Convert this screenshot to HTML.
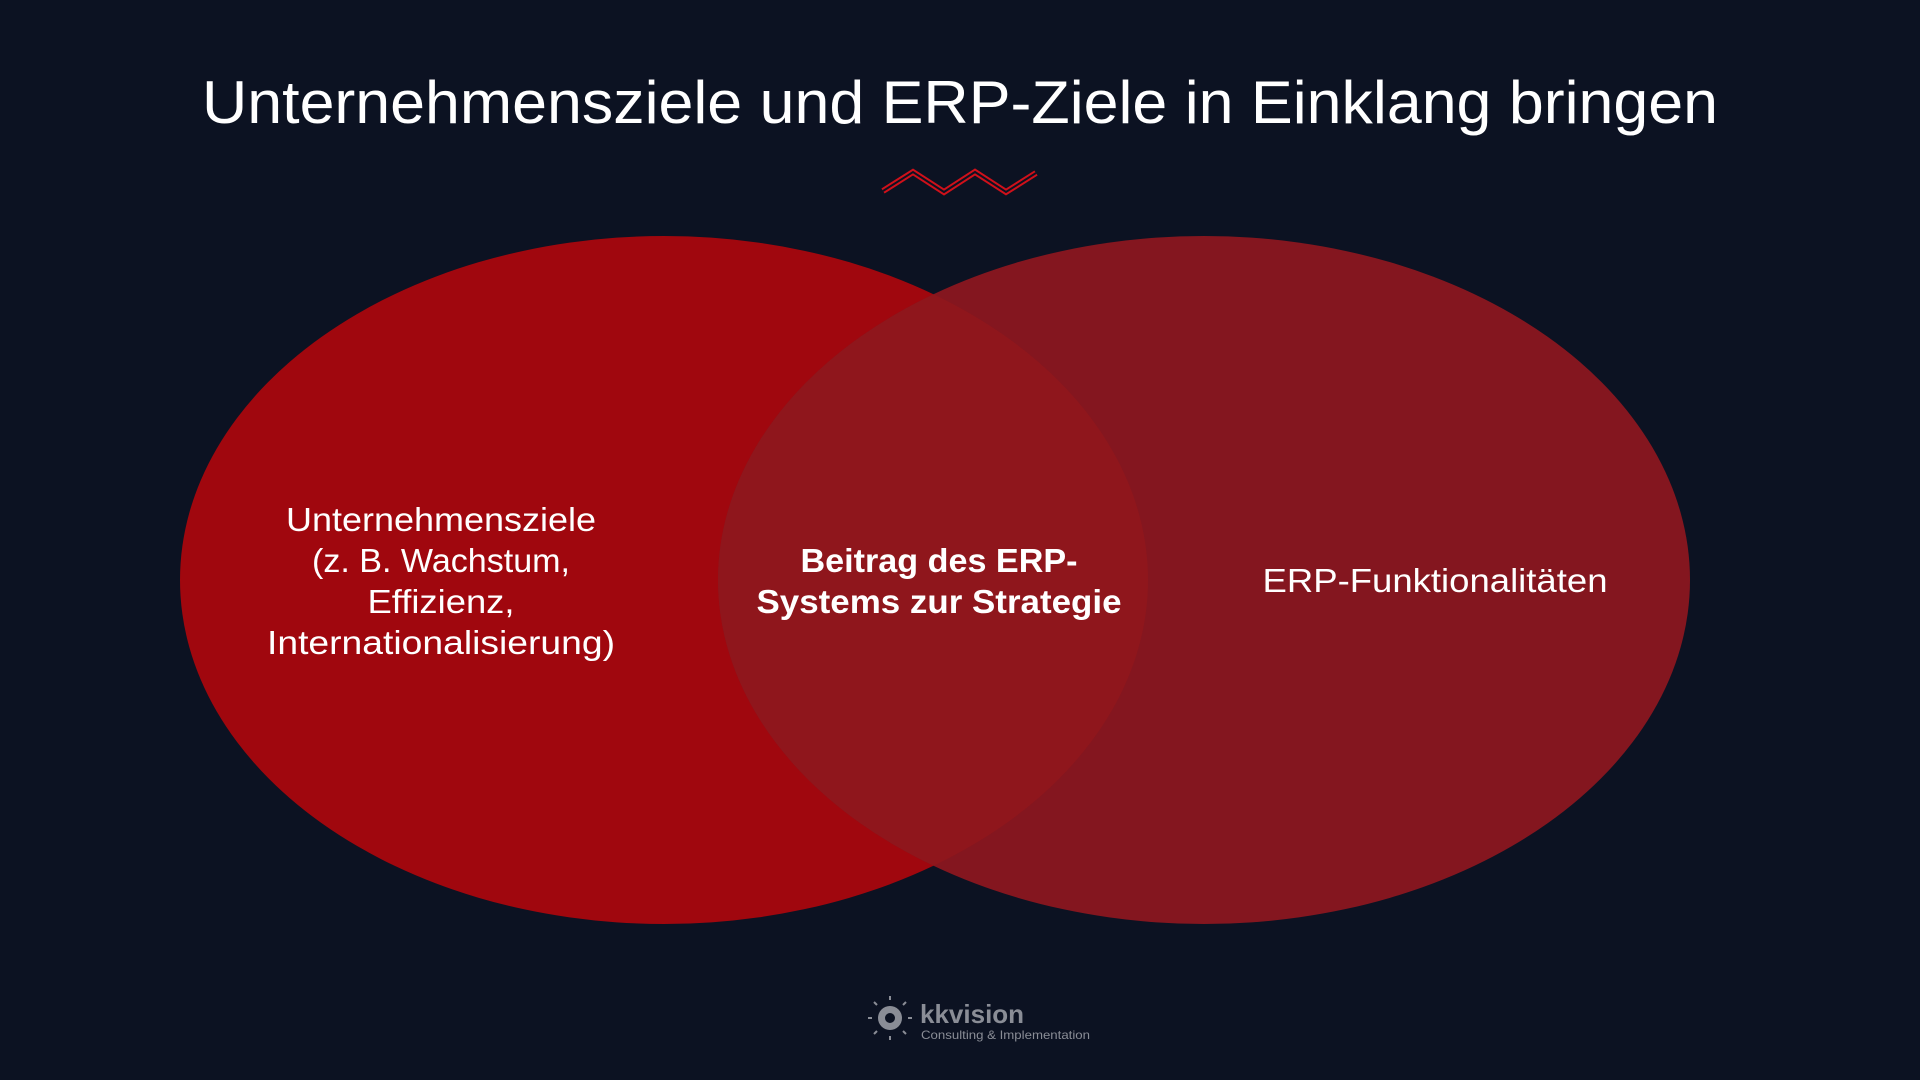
<!DOCTYPE html>
<html><head><meta charset="utf-8"><style>
html,body{margin:0;padding:0;width:1920px;height:1080px;background:#0c1222;overflow:hidden}
svg{display:block}
</style></head><body>
<svg width="1920" height="1080" viewBox="0 0 1920 1080" xmlns="http://www.w3.org/2000/svg">
<rect width="1920" height="1080" fill="#0c1222"/>
<text x="960" y="123" text-anchor="middle" font-family="Liberation Sans, sans-serif" font-size="60" fill="#ffffff" textLength="1516" lengthAdjust="spacingAndGlyphs">Unternehmensziele und ERP-Ziele in Einklang bringen</text>
<polyline points="883,191 913,172 944,192 975,172 1006,192 1036,173" fill="none" stroke="#d0101a" stroke-width="6" stroke-linejoin="miter"/>
<polyline points="883,191 913,172 944,192 975,172 1006,192 1036,173" fill="none" stroke="#0c1222" stroke-width="2" stroke-linejoin="miter"/>
<defs><clipPath id="cl"><ellipse cx="664" cy="580" rx="484" ry="344"/></clipPath></defs>
<ellipse cx="664" cy="580" rx="484" ry="344" fill="#a0070e"/>
<ellipse cx="1204" cy="580" rx="486" ry="344" fill="#84161f"/>
<ellipse cx="1204" cy="580" rx="486" ry="344" fill="#8f161c" clip-path="url(#cl)"/>
<g font-family="Liberation Sans, sans-serif" font-size="33" fill="#ffffff" text-anchor="middle" lengthAdjust="spacingAndGlyphs">
<text x="441" y="531" textLength="310" lengthAdjust="spacingAndGlyphs">Unternehmensziele</text>
<text x="441" y="572" textLength="258" lengthAdjust="spacingAndGlyphs">(z. B. Wachstum,</text>
<text x="441" y="613" textLength="147" lengthAdjust="spacingAndGlyphs">Effizienz,</text>
<text x="441" y="654" textLength="348" lengthAdjust="spacingAndGlyphs">Internationalisierung)</text>
<text x="939" y="572" font-weight="bold" textLength="277" lengthAdjust="spacingAndGlyphs">Beitrag des ERP-</text>
<text x="939" y="613" font-weight="bold" textLength="365" lengthAdjust="spacingAndGlyphs">Systems zur Strategie</text>
<text x="1435" y="592" textLength="345" lengthAdjust="spacingAndGlyphs">ERP-Funktionalitäten</text>
</g>
<g fill="#8a8d96">
<circle cx="890" cy="1018" r="12"/>
<circle cx="890" cy="1018" r="5" fill="#0c1222"/>
<g stroke="#8a8d96" stroke-width="2">
<line x1="890" y1="1000" x2="890" y2="996"/><line x1="890" y1="1036" x2="890" y2="1040"/>
<line x1="872" y1="1018" x2="868" y2="1018"/><line x1="908" y1="1018" x2="912" y2="1018"/>
<line x1="877" y1="1005" x2="874" y2="1002"/><line x1="903" y1="1005" x2="906" y2="1002"/>
<line x1="877" y1="1031" x2="874" y2="1034"/><line x1="903" y1="1031" x2="906" y2="1034"/>
</g>
<text x="920" y="1023" font-family="Liberation Sans, sans-serif" font-size="26" font-weight="bold">kkvision</text>
<text x="921" y="1039" font-family="Liberation Sans, sans-serif" font-size="12" textLength="169" lengthAdjust="spacingAndGlyphs">Consulting &amp; Implementation</text>
</g>
</svg>
</body></html>
